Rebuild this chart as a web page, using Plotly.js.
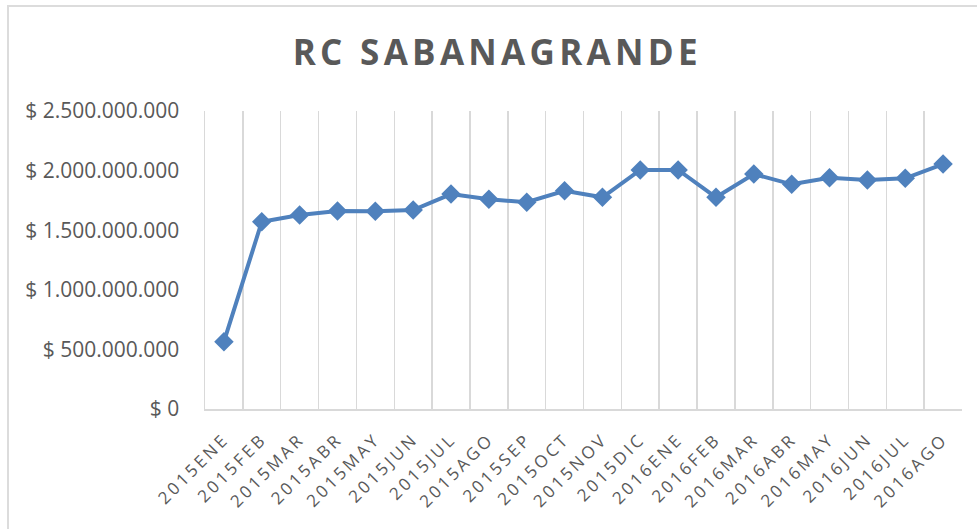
<!DOCTYPE html>
<html>
<head>
<meta charset="utf-8">
<script src="https://cdn.plot.ly/plotly-3.0.1.min.js"></script>
<style>
  html, body { margin: 0; padding: 0; background: #ffffff; }
  #wrap { position: relative; width: 977px; height: 529px; overflow: hidden; }
  #chart { position: absolute; left: 0; top: 0; width: 977px; height: 529px; }
  #frame { position: absolute; left: 7px; top: 5px; width: 980px; height: 540px;
           border-top: 2px solid #dcdcdc; border-left: 2px solid #dcdcdc; pointer-events: none; }
  .gtitle { letter-spacing: 4.3px; }
  .xtick text { letter-spacing: 3px; }
</style>
</head>
<body>
<div id="wrap">
  <div id="chart"></div>
  <div id="frame"></div>
</div>
<script>
const categories = ["2015ENE","2015FEB","2015MAR","2015ABR","2015MAY","2015JUN","2015JUL","2015AGO","2015SEP","2015OCT","2015NOV","2015DIC","2016ENE","2016FEB","2016MAR","2016ABR","2016MAY","2016JUN","2016JUL","2016AGO"];
const values = [565000000, 1571000000, 1627000000, 1661000000, 1658000000, 1669000000, 1803000000, 1759000000, 1735000000, 1831000000, 1776000000, 2005000000, 2005000000, 1776000000, 1971000000, 1885000000, 1940000000, 1921000000, 1935000000, 2055000000];
const yTickVals = [0, 500000000, 1000000000, 1500000000, 2000000000, 2500000000];
const yTickText = ["$ 0", "$ 500.000.000", "$ 1.000.000.000", "$ 1.500.000.000", "$ 2.000.000.000", "$ 2.500.000.000"];
const chartTitle = "RC SABANAGRANDE";

const trace = {
  type: "scatter",
  mode: "lines+markers",
  x: categories,
  y: values,
  line: { color: "#4f81bd", width: 4 },
  marker: { symbol: "diamond", size: 15, color: "#4f81bd" },
  hoverinfo: "x+y"
};

const layout = {
  width: 977,
  height: 529,
  margin: { l: 205, r: 15, t: 111, b: 120 },
  paper_bgcolor: "rgba(0,0,0,0)",
  plot_bgcolor: "#ffffff",
  showlegend: false,
  font: { family: "Open Sans, sans-serif", color: "#595959" },
  title: {
    text: chartTitle,
    font: { family: "Open Sans, sans-serif", size: 35, color: "#595959", weight: "bold" },
    xref: "container", x: 0.509, xanchor: "center",
    yref: "container", y: 0.9, yanchor: "middle"
  },
  xaxis: {
    type: "category",
    range: [-0.5, 19.5],
    tickson: "boundaries",
    showgrid: true,
    gridcolor: "#d9d9d9",
    gridwidth: 1.5,
    showline: true,
    linecolor: "#d9d9d9",
    linewidth: 1.5,
    ticks: "",
    tickangle: -45,
    ticklabelstandoff: 12,
    tickfont: { family: "Open Sans, sans-serif", size: 17, color: "#595959" },
    zeroline: false,
    fixedrange: true
  },
  yaxis: {
    range: [0, 2500000000],
    tickmode: "array",
    tickvals: yTickVals,
    ticktext: yTickText,
    showgrid: false,
    zeroline: false,
    showline: true,
    linecolor: "#d9d9d9",
    linewidth: 1.5,
    ticks: "",
    ticklabelstandoff: 20,
    tickfont: { family: "Open Sans, sans-serif", size: 21, color: "#595959" },
    fixedrange: true
  }
};

Plotly.newPlot("chart", [trace], layout, { displayModeBar: false, staticPlot: true });
</script>
</body>
</html>
